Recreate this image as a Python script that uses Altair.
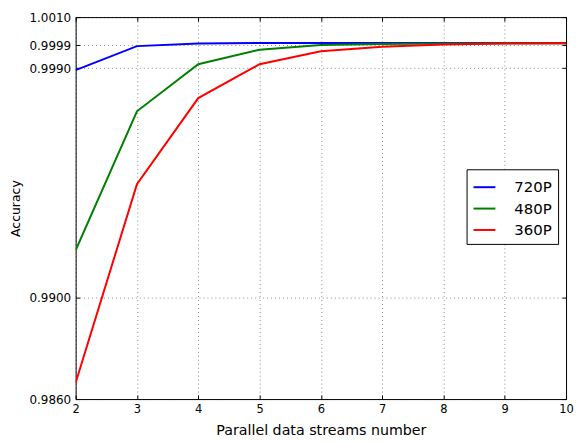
import altair as alt
import pandas as pd

streams = [2, 3, 4, 5, 6, 7, 8, 9, 10]
series_names = ["720P", "480P", "360P"]
acc_720 = [0.99892, 0.99986, 0.99996, 0.99998, 0.99998, 0.99998, 0.99998, 0.99998, 0.99998]
acc_480 = [0.99184, 0.99730, 0.99915, 0.99972, 0.99990, 0.99994, 0.99996, 0.99997, 0.99997]
acc_360 = [0.98664, 0.99444, 0.99782, 0.99915, 0.99966, 0.99984, 0.99992, 0.99996, 0.99997]
colors = ["#0000ff", "#008000", "#ff0000"]
y_ticks = [0.9860, 0.9900, 0.9990, 0.9999, 1.0010]
x_ticks = [2, 3, 4, 5, 6, 7, 8, 9, 10]

rows = []
for name, vals in zip(series_names, [acc_720, acc_480, acc_360]):
    for s, v in zip(streams, vals):
        rows.append({"streams": s, "accuracy": v, "series": name})
df = pd.DataFrame(rows)

W, H = 493, 384
FONT = "DejaVu Sans"

xscale = alt.Scale(domain=[2, 10], nice=False, zero=False)
yscale = alt.Scale(domain=[0.9860, 1.0010], nice=False, zero=False)

common = dict(labelFont=FONT, titleFont=FONT,
              labelColor="#000", titleColor="#000", titleFontWeight="normal",
              labelFlush=False, labelOverlap=False)

main = alt.Chart(df).mark_line(strokeWidth=2, clip=True).encode(
    x=alt.X("streams:Q", scale=xscale,
            axis=alt.Axis(values=x_ticks, format="d", title="Parallel data streams number",
                          titleFontSize=14.3, labelFontSize=11.5,
                          tickSize=0, labelPadding=5, titlePadding=8, domain=False,
                          grid=True, gridDash=[1, 3], gridColor="#000", gridWidth=0.6,
                          gridOpacity=0.8, **common)),
    y=alt.Y("accuracy:Q", scale=yscale,
            axis=alt.Axis(values=y_ticks, format=".4f", title="Accuracy",
                          titleFontSize=12.5, labelFontSize=12,
                          tickSize=0, labelPadding=5, titlePadding=6, domain=False,
                          grid=True, gridDash=[1, 3], gridColor="#000", gridWidth=0.6,
                          gridOpacity=0.8, **common)),
    color=alt.Color("series:N", sort=series_names,
                    scale=alt.Scale(domain=series_names, range=colors),
                    legend=alt.Legend(title=None, orient="none", legendX=393, legendY=153,
                                      symbolType="stroke", symbolSize=484, symbolStrokeWidth=2,
                                      labelFontSize=15, labelOffset=18, padding=6,
                                      strokeColor="#000", fillColor="#fff", rowPadding=1.5,
                                      labelFont=FONT, labelColor="#000")),
)

tick_axis = dict(labels=False, title=None, tickSize=4, tickColor="#000", domain=False, grid=False)

ticks_a = alt.Chart(df).mark_line(opacity=0).encode(
    x=alt.X("streams:Q", scale=xscale, axis=alt.Axis(values=x_ticks, orient="top", offset=-H, **tick_axis)),
    y=alt.Y("accuracy:Q", scale=yscale, axis=alt.Axis(values=y_ticks, orient="right", offset=-W, **tick_axis)),
)
ticks_b = alt.Chart(df).mark_line(opacity=0).encode(
    x=alt.X("streams:Q", scale=xscale, axis=alt.Axis(values=x_ticks, orient="bottom", offset=-H, **tick_axis)),
    y=alt.Y("accuracy:Q", scale=yscale, axis=alt.Axis(values=y_ticks, orient="left", offset=-W, **tick_axis)),
)

chart = alt.layer(main, ticks_a, ticks_b).resolve_axis(
    x="independent", y="independent"
).properties(
    width=W, height=H,
    background="#fff",
    autosize=alt.AutoSizeParams(type="none"),
    padding={"left": 68, "top": 8, "right": 8, "bottom": 40},
).configure_view(
    stroke="#000", strokeWidth=1
)

chart.save("out.html", embed_options={"renderer": "svg", "actions": False})
